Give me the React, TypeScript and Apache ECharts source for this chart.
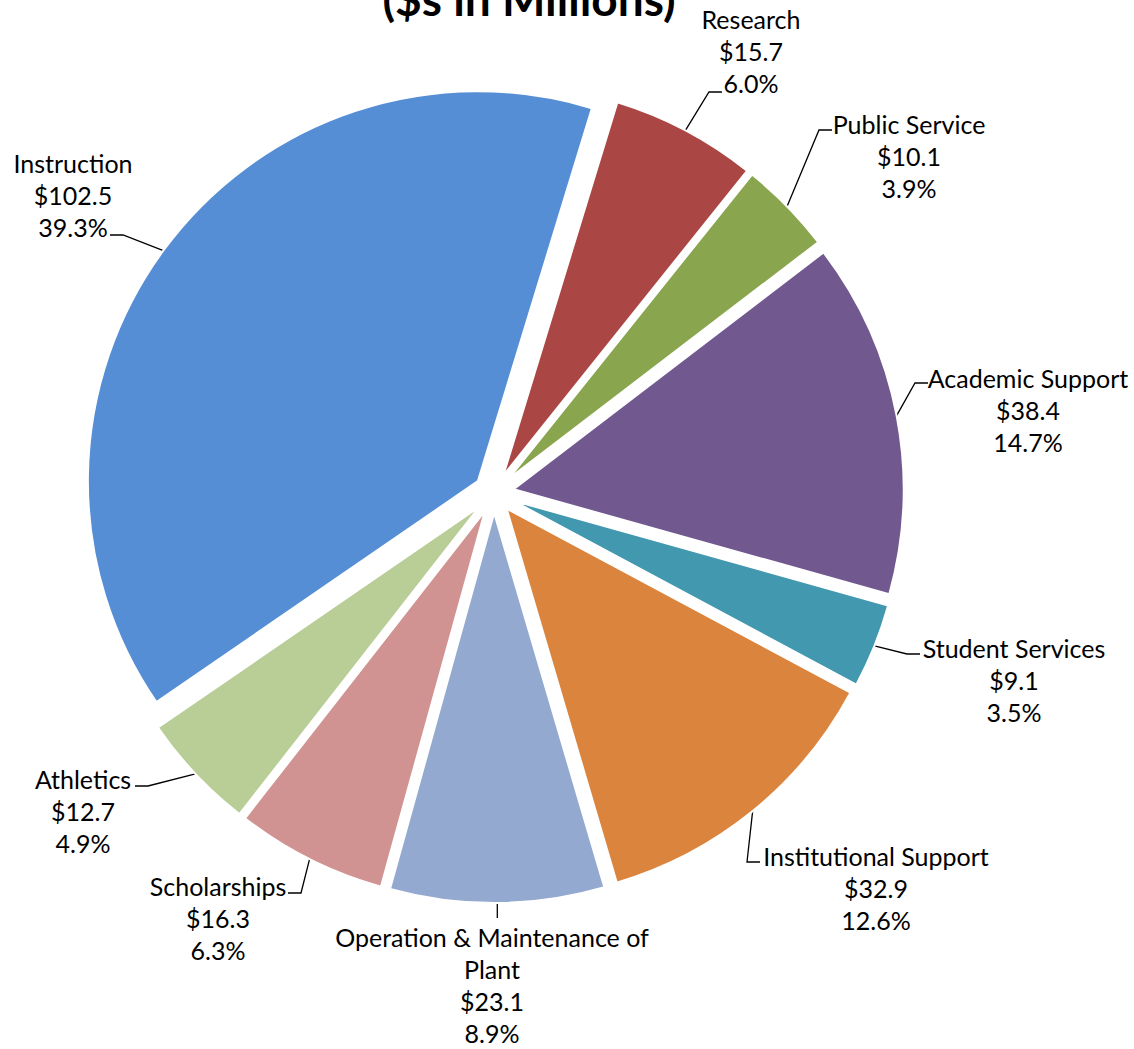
import React, { useEffect, useRef } from "react";
import * as echarts from "echarts";

// ---- data ----
const categories = [
  "Research",
  "Public Service",
  "Academic Support",
  "Student Services",
  "Institutional Support",
  "Operation & Maintenance of\nPlant",
  "Scholarships",
  "Athletics",
  "Instruction",
];
const values = [15.7, 10.1, 38.4, 9.1, 32.9, 23.1, 16.3, 12.7, 102.5];
const titleText = "($s in Millions)";

// ---- styles / layout ----
const colors = [
  "#AA4643",
  "#89A54E",
  "#71588F",
  "#4198AF",
  "#DB843D",
  "#93A9CF",
  "#D19392",
  "#B9CD96",
  "#558ED5",
];
const CX = 494;
const CY = 493;
const RADIUS = 390;
const OFFSET = 20;
const START_CW = 17; // degrees clockwise from 12 o'clock
const labelCenters = [
  [751, 51],
  [909, 156],
  [1028, 410],
  [1014, 680],
  [876, 888],
  [492, 985],
  [218, 918],
  [83, 811],
  [73, 195],
];
const leaderEnds = [
  [722, 92],
  [832, 130],
  [928, 383],
  [920, 654],
  [760, 862],
  [0, 15],
  [288, 893],
  [135, 786],
  [110, 235],
];
const leaderSide = [1, 1, 1, 1, 1, 0, -1, -1, -1];

export default function App() {
  const ref = useRef<HTMLDivElement>(null);
  useEffect(() => {
    if (!ref.current) return;
    const chart = echarts.init(ref.current, undefined, { renderer: "svg" });
    const total = values.reduce((a, b) => a + b, 0);
    const cum: number[] = [];
    let acc = 0;
    values.forEach((v) => {
      cum.push(acc);
      acc += v;
    });
    const pct = (v: number) => (Math.round((v / total) * 1000 + 1e-7) / 10).toFixed(1);
    const dirOf = (i: number) => {
      const mid = START_CW + ((cum[i] + values[i] / 2) / total) * 360;
      const rad = (mid * Math.PI) / 180;
      return [Math.sin(rad), -Math.cos(rad)];
    };

    const series = categories.map((_, i) => {
      const d = dirOf(i);
      const cx = CX + d[0] * OFFSET;
      const cy = CY + d[1] * OFFSET;
      const a = [cx + d[0] * RADIUS, cy + d[1] * RADIUS];
      return {
        type: "pie",
        center: [cx, cy],
        radius: RADIUS,
        startAngle: 90 - START_CW,
        clockwise: true,
        silent: true,
        avoidLabelOverlap: false,
        emphasis: { disabled: true },
        label: {
          show: false,
          position: "outside",
          fontFamily: "Lato",
          fontSize: 25,
          lineHeight: 32,
          color: "#000",
          align: "center",
          formatter: (p: any) =>
            `${p.name}\n$${values[p.dataIndex].toFixed(1)}\n${pct(values[p.dataIndex])}%`,
        },
        labelLine: {
          show: false,
          lineStyle: { color: "#000", width: 1.3 },
        },
        labelLayout: (p: any) => {
          if (p.dataIndex !== i) return {};
          let end: number[];
          let elbow: number[];
          if (leaderSide[i] === 0) {
            end = [a[0], a[1] + leaderEnds[i][1]];
            elbow = end;
          } else {
            end = leaderEnds[i];
            elbow = [end[0] - 13 * leaderSide[i], end[1]];
          }
          return {
            x: labelCenters[i][0],
            y: labelCenters[i][1],
            align: "center",
            verticalAlign: "middle",
            labelLinePoints: [a, elbow, end],
          };
        },
        data: categories.map((name, j) => ({
          name,
          value: values[j],
          itemStyle:
            j === i
              ? { color: colors[j], borderColor: "#ffffff", borderWidth: 2 }
              : { color: "rgba(0,0,0,0)", borderWidth: 0 },
          label: { show: j === i },
          labelLine: { show: j === i },
        })),
      };
    });

    chart.setOption({
      animation: false,
      backgroundColor: "#ffffff",
      graphic: [
        {
          type: "text",
          x: 529,
          y: -25,
          style: {
            text: titleText,
            fontFamily: "Lato",
            fontWeight: "bold",
            fontSize: 46,
            fill: "#000",
            textAlign: "center",
            textVerticalAlign: "top",
          },
        },
      ],
      series,
    });
    return () => chart.dispose();
  }, []);
  return (
    <div
      ref={ref}
      style={{ position: "absolute", left: 0, top: 0, width: 1134, height: 1049 }}
    />
  );
}
